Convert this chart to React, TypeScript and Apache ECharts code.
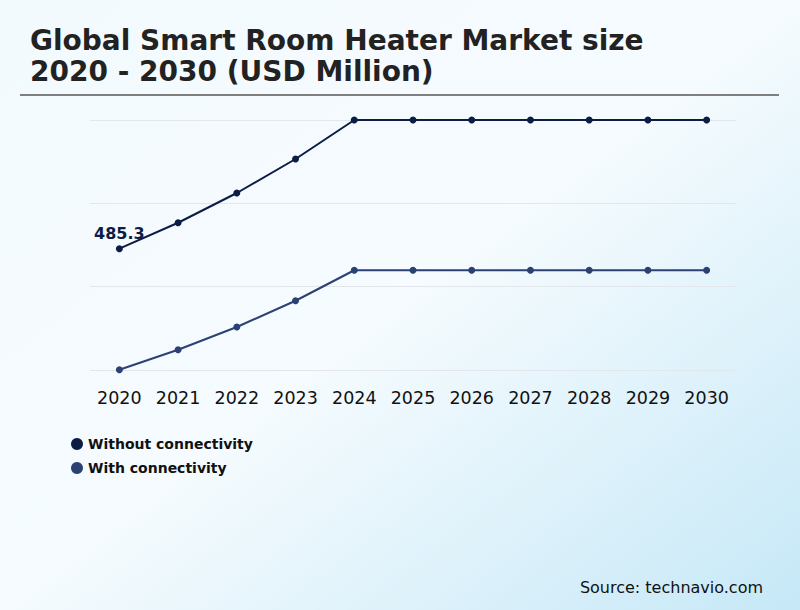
import React, { useEffect, useRef } from "react";
import * as echarts from "echarts";

const years = ["2020", "2021", "2022", "2023", "2024", "2025", "2026", "2027", "2028", "2029", "2030"];
const withoutConnectivity = [485.3, 589, 708, 844, 1000, 1000, 1000, 1000, 1000, 1000, 1000];
const withConnectivity = [1, 81, 172, 277, 399, 399, 399, 399, 399, 399, 399];
const seriesNames = ["Without connectivity", "With connectivity"];
const seriesColors = ["#0b1c45", "#2c4173"];
const titleLines = ["Global Smart Room Heater Market size", "2020 - 2030 (USD Million)"];
const sourceText = "Source: technavio.com";

export default function App() {
  const ref = useRef<HTMLDivElement>(null);
  useEffect(() => {
    if (!ref.current) return;
    const chart = echarts.init(ref.current, null, { renderer: "svg" });
    const font = "DejaVu Sans";
    chart.setOption({
      animation: false,
      backgroundColor: new echarts.graphic.LinearGradient(0, 0, 1, 1, [
        { offset: 0, color: "#f3fafd" },
        { offset: 0.5, color: "#f5fbfe" },
        { offset: 1, color: "#c6e8f7" },
      ]),
      textStyle: { fontFamily: font },
      grid: { left: 90, right: 64, top: 120, bottom: 240, containLabel: false },
      xAxis: {
        type: "category",
        data: years,
        boundaryGap: true,
        axisLine: { show: false },
        axisTick: { show: false },
        axisLabel: { color: "#111", fontSize: 17.5, margin: 19, fontFamily: font },
      },
      yAxis: {
        type: "value",
        min: 0,
        max: 1000,
        interval: 1000 / 3,
        axisLine: { show: false },
        axisTick: { show: false },
        axisLabel: { show: false },
        splitLine: { lineStyle: { color: "#e3e6ea", width: 1 } },
      },
      legend: {
        orient: "vertical",
        left: 66,
        top: 432,
        itemGap: 10,
        itemWidth: 12,
        itemHeight: 12,
        icon: "circle",
        data: seriesNames,
        textStyle: { fontSize: 14, fontWeight: "bold", color: "#111", fontFamily: font },
      },
      series: [
        {
          name: seriesNames[0],
          type: "line",
          data: withoutConnectivity,
          color: seriesColors[0],
          symbol: "circle",
          symbolSize: 7,
          lineStyle: { width: 2, color: seriesColors[0] },
          itemStyle: { color: seriesColors[0] },
          label: {
            show: true,
            position: "top",
            distance: 4,
            fontSize: 16,
            fontWeight: "bold",
            color: seriesColors[0],
            fontFamily: font,
            formatter: (p: any) => (p.dataIndex === 0 ? String(p.value) : ""),
          },
        },
        {
          name: seriesNames[1],
          type: "line",
          data: withConnectivity,
          color: seriesColors[1],
          symbol: "circle",
          symbolSize: 7,
          lineStyle: { width: 2, color: seriesColors[1] },
          itemStyle: { color: seriesColors[1] },
        },
      ],
      graphic: [
        {
          type: "text",
          left: 30,
          top: 24.5,
          style: {
            text: titleLines.join("\n"),
            font: `bold 28px '${font}'`,
            fill: "#222",
            lineHeight: 31,
          },
        },
        {
          type: "line",
          shape: { x1: 20, y1: 95, x2: 779, y2: 95 },
          style: { stroke: "#7f7f7f", lineWidth: 2 },
        },
        {
          type: "text",
          right: 37,
          top: 579,
          style: { text: sourceText, font: `16px '${font}'`, fill: "#111" },
        },
      ],
    });
    return () => chart.dispose();
  }, []);
  return <div ref={ref} style={{ width: 800, height: 610, position: "absolute", left: 0, top: 0 }} />;
}
